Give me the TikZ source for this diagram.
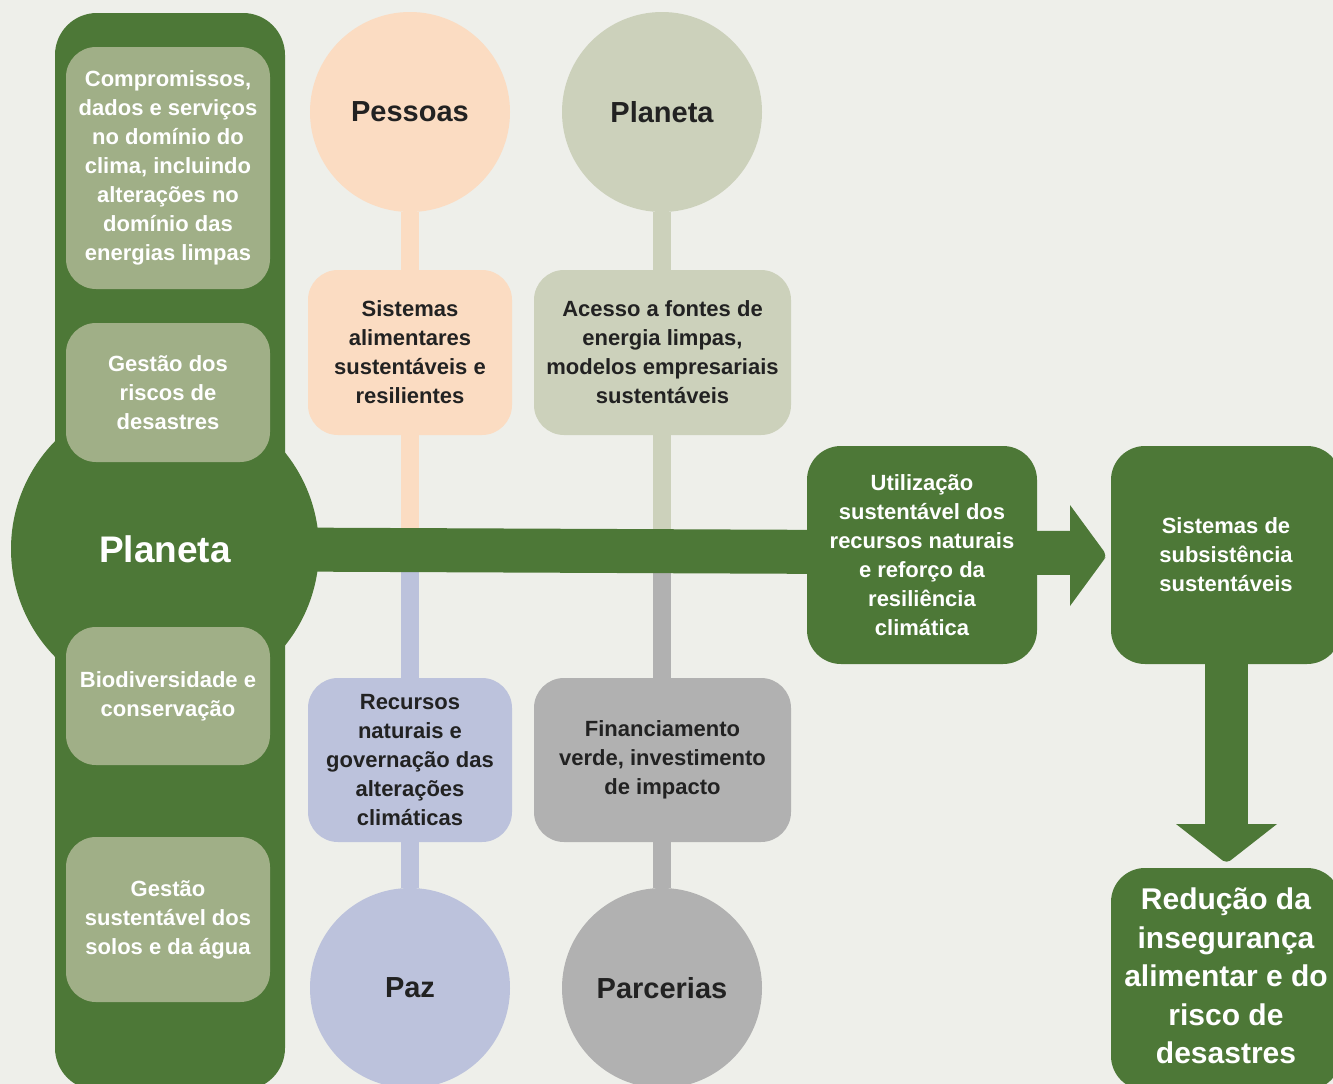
\documentclass[tikz,border=0pt]{standalone}
\usepackage{fontspec}
\setmainfont{Liberation Sans}
\definecolor{bg}{HTML}{EEEFEA}
\definecolor{dkgreen}{HTML}{4D7837}
\definecolor{ltgreen}{HTML}{A0AF87}
\definecolor{peach}{HTML}{FBDCC2}
\definecolor{sage}{HTML}{CCD1BB}
\definecolor{lavender}{HTML}{BCC2DC}
\definecolor{stone}{HTML}{B1B1B1}
\definecolor{ink}{HTML}{222222}
\begin{document}
\begin{tikzpicture}[x=1pt,y=-1pt,
  every node/.style={inner sep=0pt, outer sep=0pt, align=center, font=\bfseries},
  txt/.style={font=\fontsize{22}{29}\selectfont\bfseries},
  sidebox/.style={rectangle, rounded corners=30pt, fill=ltgreen, text=white, minimum width=204pt, txt},
  colbox/.style={rectangle, rounded corners=30pt, text=ink, minimum height=165pt, txt},
  pillar/.style={circle, minimum size=200pt, text=ink, font=\fontsize{29}{34}\selectfont\bfseries},
  greenbox/.style={rectangle, rounded corners=34pt, fill=dkgreen, text=white, txt},
  stem/.style={line width=18pt}
]
\useasboundingbox (0,0) rectangle (1333,1084);
\clip (0,0) rectangle (1333,1084);
\fill[bg] (0,0) rectangle (1333,1084);

% left spine and the central circle
\node[rectangle, rounded corners=42pt, fill=dkgreen, minimum width=230pt, minimum height=1077pt] (spine) at (170,551.5) {};
\node[circle, fill=dkgreen, minimum size=308pt, text=white, font=\fontsize{37}{44}\selectfont\bfseries] (planet) at (165,549) {Planeta};

% boxes on the spine
\node[sidebox, minimum height=242pt] (climate) at (168,168) {Compromissos,\\dados e serviços\\no domínio do\\clima, incluindo\\alterações no\\domínio das\\energias limpas};
\node[sidebox, minimum height=139pt] (risk) at (168,392.5) {Gestão dos\\riscos de\\desastres};
\node[sidebox, minimum height=138pt] (biodiv) at (168,696) {Biodiversidade e\\conservação};
\node[sidebox, minimum height=165pt] (soil) at (168,919.5) {Gestão\\sustentável dos\\solos e da água};

% the four pillars
\node[pillar, fill=peach] (people) at (410,112) {Pessoas};
\node[pillar, fill=sage] (planet2) at (662,112) {Planeta};
\node[pillar, fill=lavender] (peace) at (410,988) {Paz};
\node[pillar, fill=stone] (partners) at (662,988) {Parcerias};

\coordinate (axisA) at (410,553);
\coordinate (axisB) at (662,553);

% stems from pillars to the axis
\draw[stem, peach] (people.south) -- (axisA);
\draw[stem, sage] (planet2.south) -- (axisB);
\draw[stem, lavender] (axisA) -- (peace.north);
\draw[stem, stone] (axisB) -- (partners.north);

\node[colbox, fill=peach, minimum width=204pt] (food) at (410,352.5) {Sistemas\\alimentares\\sustentáveis e\\resilientes};
\node[colbox, fill=sage, minimum width=257pt] (energy) at (662.5,352.5) {Acesso a fontes de\\energia limpas,\\modelos empresariais\\sustentáveis};
\node[colbox, fill=lavender, minimum width=204pt, minimum height=164pt] (natres) at (410,760) {Recursos\\naturais e\\governação das\\alterações\\climáticas};
\node[colbox, fill=stone, minimum width=257pt, minimum height=164pt] (finance) at (662.5,760) {Financiamento\\verde, investimento\\de impacto};

% main horizontal arrow, leaving the central circle
\coordinate (headbase) at (1072,553);
\draw[dkgreen, line width=44pt, shorten <=130pt] (planet.center) -- (headbase);

% outcome boxes
\node[greenbox, minimum width=230pt, minimum height=218pt] (use) at (922,555) {Utilização\\sustentável dos\\recursos naturais\\e reforço da\\resiliência\\climática};
\node[greenbox, minimum width=230pt, minimum height=218pt] (liveli) at (1226,555) {Sistemas de\\subsistência\\sustentáveis};
\node[greenbox, minimum width=230pt, minimum height=222pt, font=\fontsize{30}{38.5}\selectfont\bfseries] (reduce) at (1226,979) {\raisebox{6pt}{\begin{tabular}{@{}c@{}}Redução da\\insegurança\\alimentar e do\\risco de\\desastres\end{tabular}}};

\fill[dkgreen] (1070,505) -- (1103,550) [rounded corners=5pt] -- (1107,555.5) -- (1103,561) [sharp corners] -- (1070,606) -- cycle;

% downward arrow
\coordinate (headTop) at (1226,825);
\draw[dkgreen, line width=43pt] (liveli.south) -- (headTop);
\fill[dkgreen] (1176,824) -- (1277,824) -- (1231,860) [rounded corners=4pt] -- (1226.5,863) [sharp corners] -- (1222,860) -- cycle;
\end{tikzpicture}
\end{document}
